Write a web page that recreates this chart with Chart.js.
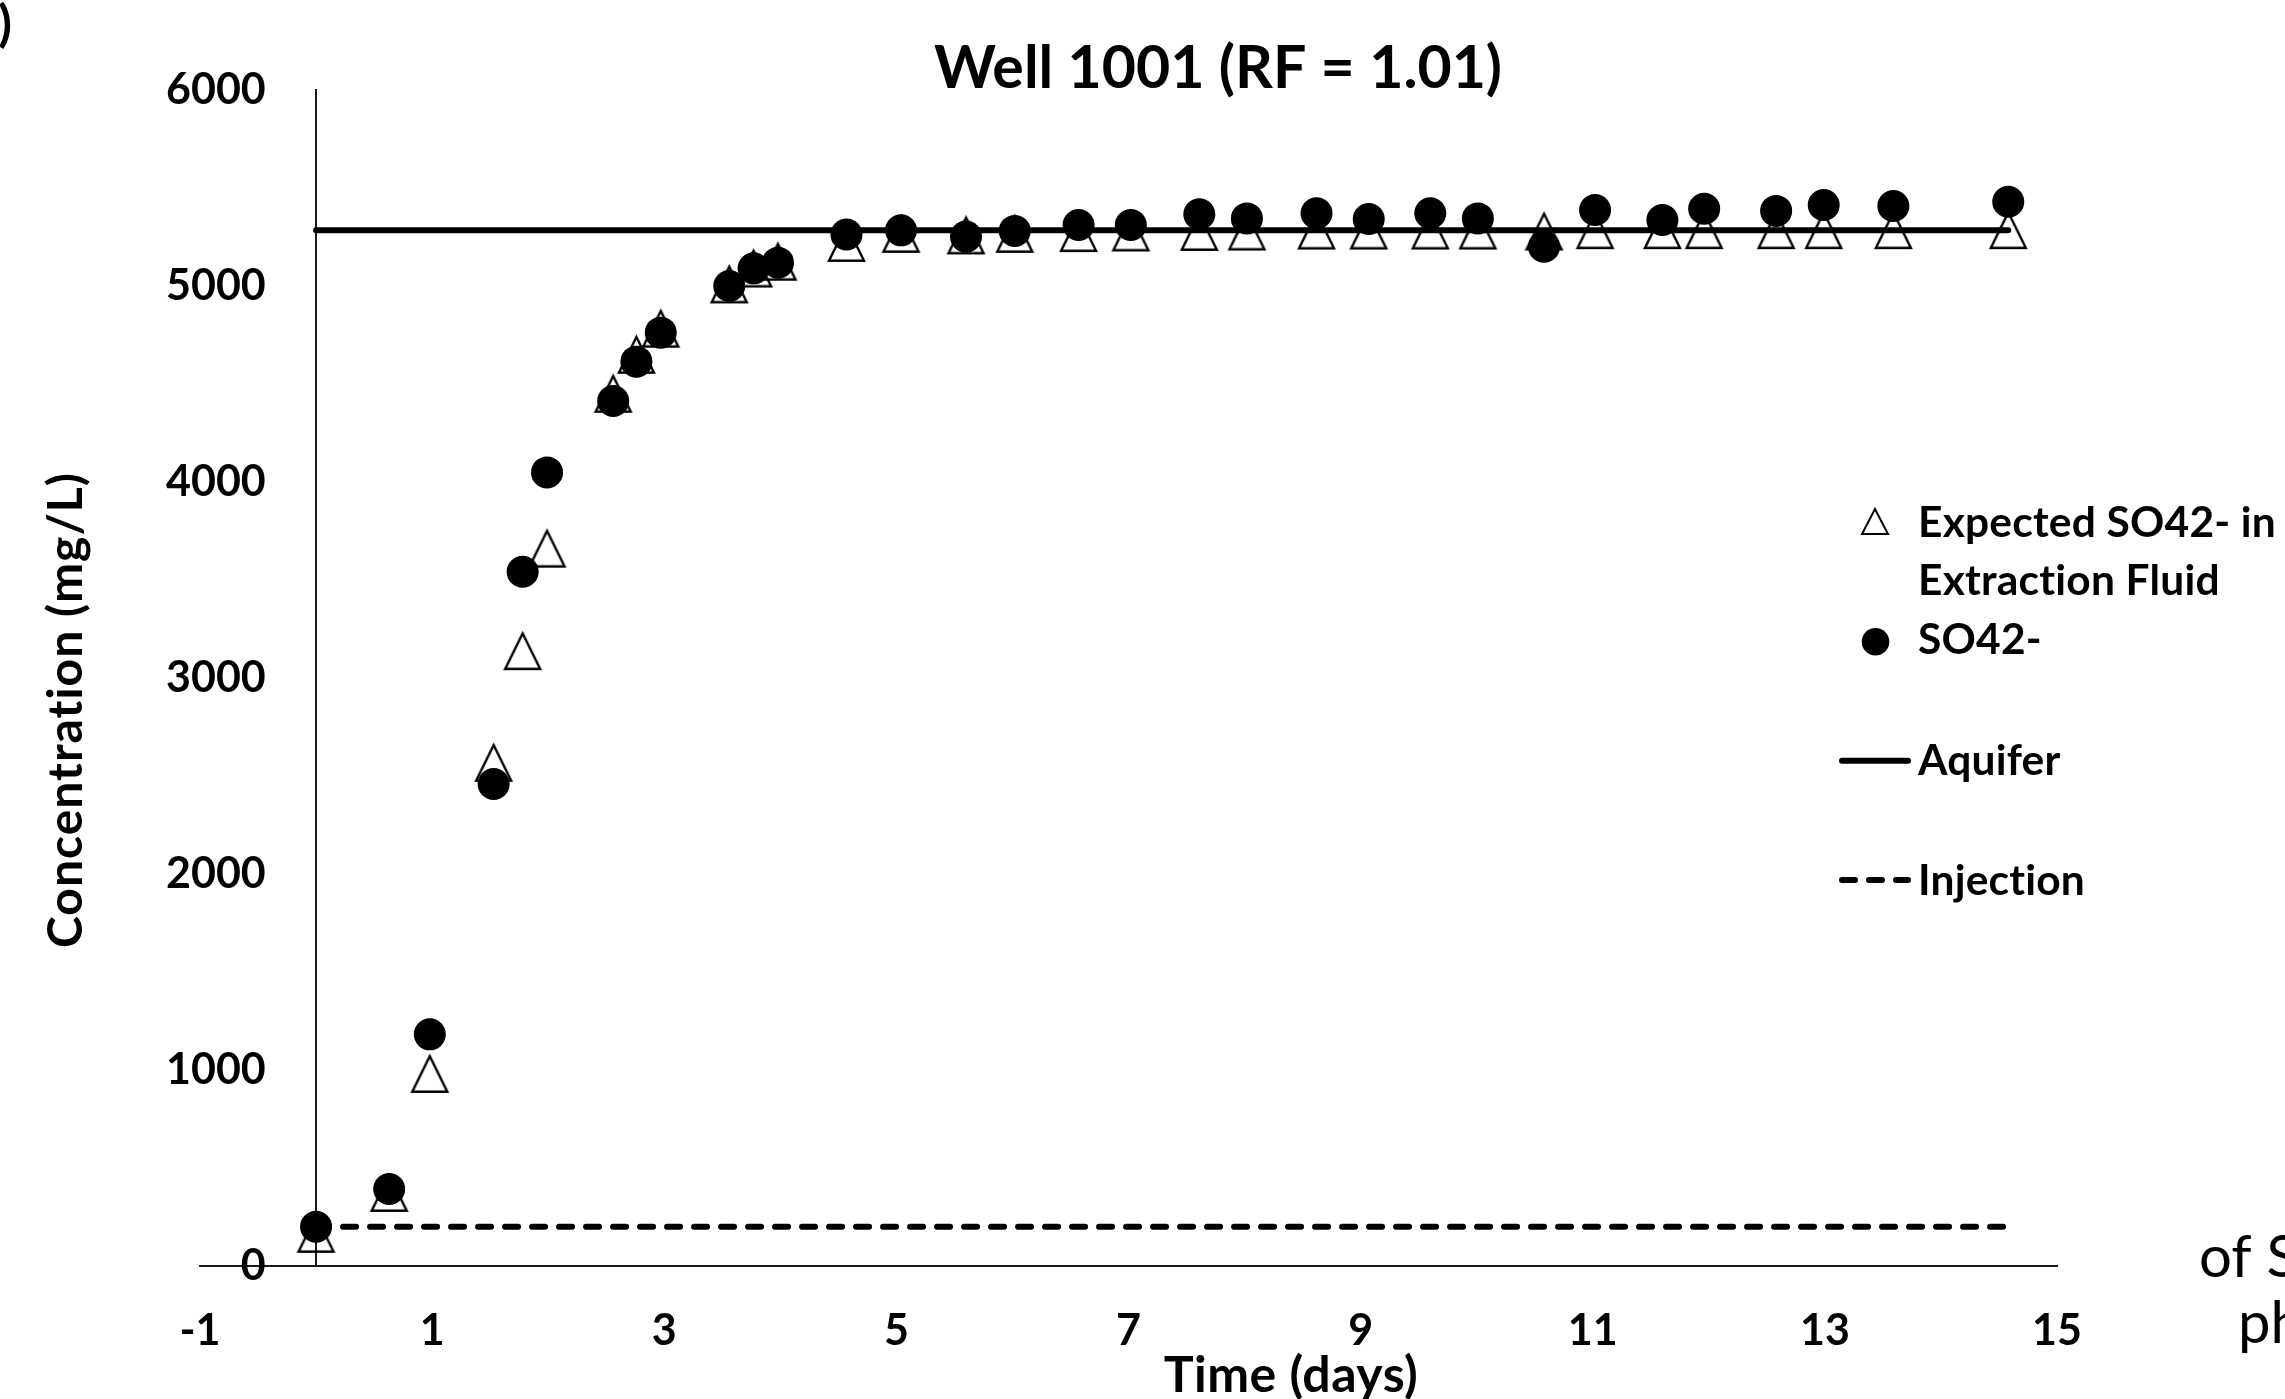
<!DOCTYPE html>
<html lang="en">
<head>
<meta charset="UTF-8">
<title>Well 1001 (RF = 1.01)</title>
<script src="https://cdn.jsdelivr.net/npm/chart.js"></script>
<style>
  html, body { margin: 0; padding: 0; background: #fff; overflow: hidden; }
  .wrap { position: relative; width: 2285px; height: 1399px; }
</style>
</head>
<body>
<div class="wrap"><canvas id="wellChart"></canvas></div>
<script>
// sampling times (days)
const timeDays = [0, 0.63, 0.98, 1.53, 1.78, 1.99, 2.56, 2.76, 2.97, 3.56, 3.77, 3.98,
  4.57, 5.04, 5.60, 6.02, 6.57, 7.02, 7.61, 8.02, 8.62, 9.07, 9.60, 10.01,
  10.58, 11.02, 11.60, 11.96, 12.58, 12.99, 13.59, 14.58];
// measured SO42- (mg/L)
const so4Measured = [200, 393, 1182, 2459, 3542, 4049, 4413, 4614, 4762, 5000, 5090, 5119,
  5263, 5284, 5252, 5281, 5311, 5311, 5366, 5345, 5371, 5342, 5371, 5345,
  5200, 5388, 5337, 5394, 5383, 5413, 5408, 5430];
// expected SO42- in extraction fluid (mg/L)
const so4Expected = [164, 373, 980, 2567, 3137, 3660, 4450, 4649, 4782, 5008, 5089, 5124,
  5220, 5266, 5258, 5266, 5270, 5273, 5276, 5278, 5283, 5283, 5283, 5283,
  5278, 5285, 5285, 5285, 5285, 5285, 5285, 5285];
const aquiferDays = [0, 14.58];
const aquiferConc = [5285, 5285];
const injectionDays = [0, 14.58];
const injectionConc = [200, 200];

const xTicks = [-1, 1, 3, 5, 7, 9, 11, 13, 15];
const yTicks = [0, 1000, 2000, 3000, 4000, 5000, 6000];

const chartTitle = 'Well 1001 (RF = 1.01)';
const xTitle = 'Time (days)';
const yTitle = 'Concentration (mg/L)';

const toPoints = (xs, ys) => xs.map((x, i) => ({ x: x, y: ys[i] }));

// open triangle like the spreadsheet marker (box centred on the value)
function triangleMarker(w, h, lw) {
  const pad = 4;
  const c = document.createElement('canvas');
  c.width = Math.round(w + pad * 2);
  c.height = Math.round(h + pad * 2);
  const g = c.getContext('2d');
  const ox = (c.width - w) / 2, oy = (c.height - h) / 2;
  g.strokeStyle = '#000';
  g.lineWidth = lw;
  g.lineJoin = 'miter';
  g.beginPath();
  g.moveTo(ox + w / 2, oy);
  g.lineTo(ox + w, oy + h);
  g.lineTo(ox, oy + h);
  g.closePath();
  g.stroke();
  return c;
}

const bigTriangle = triangleMarker(35, 35.5, 2.4);
const smallTriangle = triangleMarker(26, 25, 2);

const font = 'Lato';

// legend / title placement on the page
const layoutText = {
  title: { x: 1218, y: 88, size: 59 },
  xTitle: { x: 1291, y: 1392, size: 50, spacing: '0.5px' },
  yTitle: { x: 82, y: 710, size: 48, spacing: '1px' },
  legend: { textX: 1918, size: 42.5, spacing: '0.2px', wrap: 380, lineGap: 58,
    rows: [
      { cx: 1875, cy: 521.5, base: 537 },
      { cx: 1875.5, cy: 641.7, base: 654 },
      { cx: 1875, cy: 760.7, base: 775 },
      { cx: 1875, cy: 880, base: 895 }
    ] }
};

function wrapText(ctx, text, maxWidth) {
  const words = text.split(' ');
  const lines = [];
  let line = '';
  words.forEach(w => {
    const test = line ? line + ' ' + w : w;
    if (ctx.measureText(test).width > maxWidth && line) {
      lines.push(line);
      line = w;
    } else {
      line = test;
    }
  });
  if (line) lines.push(line);
  return lines;
}

const overlayText = {
  id: 'overlayText',
  afterDraw(chart) {
    const ctx = chart.ctx;
    ctx.save();
    ctx.fillStyle = '#000';
    ctx.textBaseline = 'alphabetic';
    ctx.textAlign = 'center';

    const t = layoutText.title;
    ctx.font = 'bold ' + t.size + 'px ' + font;
    ctx.fillText(chartTitle, t.x, t.y);

    const xt = layoutText.xTitle;
    ctx.font = 'bold ' + xt.size + 'px ' + font;
    ctx.letterSpacing = xt.spacing;
    ctx.fillText(xTitle, xt.x, xt.y);

    const yt = layoutText.yTitle;
    ctx.save();
    ctx.translate(yt.x, yt.y);
    ctx.rotate(-Math.PI / 2);
    ctx.font = 'bold ' + yt.size + 'px ' + font;
    ctx.letterSpacing = yt.spacing;
    ctx.fillText(yTitle, 0, 0);
    ctx.restore();

    // legend
    const lg = layoutText.legend;
    ctx.font = 'bold ' + lg.size + 'px ' + font;
    ctx.letterSpacing = lg.spacing;
    ctx.textAlign = 'left';
    chart.data.datasets.forEach((ds, i) => {
      const row = lg.rows[i];
      if (ds.showLine) {
        ctx.save();
        ctx.strokeStyle = ds.borderColor;
        ctx.lineWidth = ds.borderWidth;
        ctx.lineCap = 'round';
        ctx.setLineDash(ds.borderDash || []);
        ctx.beginPath();
        ctx.moveTo(row.cx - 33, row.cy);
        ctx.lineTo(row.cx + 33, row.cy);
        ctx.stroke();
        ctx.restore();
      } else if (ds.pointStyle === 'circle') {
        ctx.beginPath();
        ctx.arc(row.cx, row.cy, 13.8, 0, Math.PI * 2);
        ctx.fill();
      } else {
        ctx.drawImage(smallTriangle, row.cx - smallTriangle.width / 2, row.cy - smallTriangle.height / 2);
      }
      const lines = wrapText(ctx, ds.label, lg.wrap);
      lines.forEach((ln, k) => ctx.fillText(ln, lg.textX, row.base + k * lg.lineGap));
    });

    // fragments of the surrounding page
    ctx.letterSpacing = '0px';
    ctx.font = 'bold 50px ' + font;
    ctx.textAlign = 'right';
    ctx.fillText(')', 12, 41);
    ctx.textAlign = 'left';
    ctx.font = '400 58px ' + font;
    ctx.fillText('of S', 2199, 1277);
    ctx.fillText('ph', 2238, 1343);
    ctx.restore();
  }
};

const tickFont = { family: font, weight: 'bold', size: 43 };

new Chart(document.getElementById('wellChart'), {
  type: 'scatter',
  data: {
    datasets: [
      {
        label: 'Expected SO42- in Extraction Fluid',
        data: toPoints(timeDays, so4Expected),
        pointStyle: bigTriangle,
        pointRadius: 19,
        showLine: false,
        order: 4
      },
      {
        label: 'SO42-',
        data: toPoints(timeDays, so4Measured),
        pointStyle: 'circle',
        pointRadius: 16,
        backgroundColor: '#000',
        borderColor: '#000',
        borderWidth: 0,
        showLine: false,
        order: 3
      },
      {
        label: 'Aquifer',
        data: toPoints(aquiferDays, aquiferConc),
        showLine: true,
        borderColor: '#000',
        borderWidth: 6,
        borderCapStyle: 'round',
        pointRadius: 0,
        order: 2
      },
      {
        label: 'Injection',
        data: toPoints(injectionDays, injectionConc),
        showLine: true,
        borderColor: '#000',
        borderWidth: 6,
        borderDash: [13, 14],
        borderCapStyle: 'round',
        pointRadius: 0,
        order: 1
      }
    ]
  },
  options: {
    responsive: true,
    maintainAspectRatio: false,
    devicePixelRatio: 1,
    animation: false,
    events: [],
    layout: { padding: { top: 90, right: 228, bottom: 0, left: 0 } },
    plugins: {
      legend: { display: false },
      title: { display: false },
      tooltip: { enabled: false }
    },
    scales: {
      x: {
        type: 'linear',
        position: 'bottom',
        min: -1,
        max: 15,
        afterBuildTicks: s => { s.ticks = xTicks.map(v => ({ value: v })); },
        afterFit: s => { s.height = 133; },
        grid: { display: false, drawTicks: false },
        border: { display: true, color: '#1a1a1a', width: 2 },
        ticks: { font: tickFont, color: '#000', padding: 39, maxRotation: 0, autoSkip: false,
          callback: v => String(v) }
      },
      y: {
        type: 'linear',
        position: 'left',
        min: 0,
        max: 6000,
        afterBuildTicks: s => { s.ticks = yTicks.map(v => ({ value: v })); },
        afterFit: s => { s.width = 200; },
        grid: { display: false, drawTicks: false },
        border: { display: false },
        // mirrored so the labels can sit right of the box, next to the x = 0 line
        ticks: { font: tickFont, color: '#000', mirror: true, crossAlign: 'far', padding: -34,
          autoSkip: false, callback: v => String(v) }
      },
      yLine: {
        axis: 'y',
        type: 'linear',
        position: { x: 0 },
        min: 0,
        max: 6000,
        grid: { display: false, drawTicks: false },
        border: { display: true, color: '#1a1a1a', width: 2 },
        ticks: { display: false }
      }
    }
  },
  plugins: [overlayText]
});
</script>
</body>
</html>
